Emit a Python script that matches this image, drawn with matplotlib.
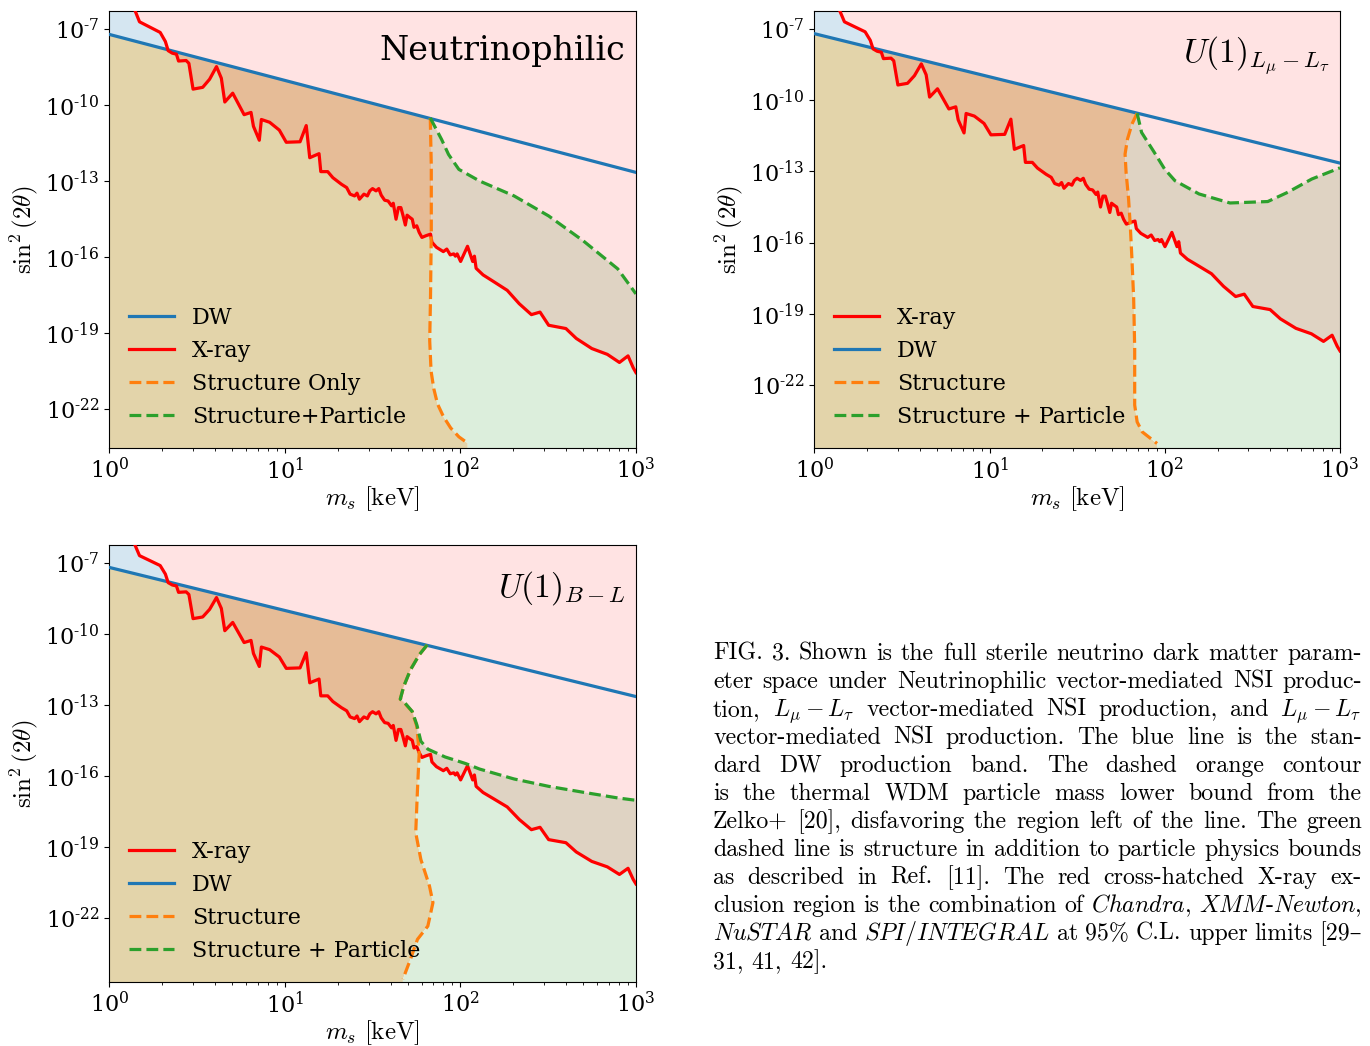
import numpy as np
import matplotlib
matplotlib.use('Agg')
import matplotlib.pyplot as plt
from matplotlib.patches import Polygon
from matplotlib.ticker import NullLocator

plt.rcParams['font.family'] = 'DejaVu Serif'
plt.rcParams['mathtext.fontset'] = 'cm'

# ---- data (m_s in keV, sin^2(2theta) as log10) ----
dw_m = [1.0, 1000.0]
dw_log = [-7.2, -12.65]

xray_m = [1.37, 1.483, 1.946, 2.083, 2.160, 2.281, 2.408, 2.475, 2.734, 2.835,
          2.994, 3.398, 3.720, 4.073, 4.340, 4.541, 5.039, 5.851, 6.407, 6.614,
          7.142, 7.339, 8.180, 9.288, 10.17, 12.19, 13.22, 13.84, 15.64, 16.00,
          17.52, 18.75, 20.99, 22.47, 23.51, 24.94, 25.74, 26.57, 28.18, 29.49,
          30.44, 31.56, 33.03, 34.24, 35.35, 36.98, 38.69, 40.49, 41.41, 42.94,
          44.33, 45.76, 47.01, 48.53, 49.64, 51.47, 53.13, 54.35, 56.36, 58.18,
          60.33, 63.70, 67.54, 68.78, 72.97, 79.89, 83.59, 87.46, 91.50, 93.61,
          95.74, 100.2, 109.7, 117.4, 120.1, 122.8, 134.5, 154.1, 184.7, 216.3,
          253.6, 284.0, 318.1, 398.9, 456.8, 560.3, 686.9, 805.1, 901.4, 964.7,
          1000.0]
xray_log = [-6.1, -6.70, -7.12, -7.48, -7.84, -7.94, -7.98, -8.25, -8.23, -8.34,
            -9.36, -9.29, -8.97, -8.47, -8.93, -9.87, -9.52, -10.37, -10.28, -10.83,
            -11.38, -10.56, -10.67, -10.98, -11.46, -11.44, -10.80, -12.07, -11.91, -12.62,
            -12.62, -12.86, -13.12, -13.25, -13.51, -13.58, -13.47, -13.71, -13.51, -13.58,
            -13.38, -13.29, -13.38, -13.29, -13.55, -13.75, -13.78, -13.97, -13.87, -14.50,
            -14.04, -14.04, -14.34, -14.73, -14.34, -14.43, -14.50, -14.82, -14.76, -15.02,
            -15.22, -15.15, -15.09, -15.41, -15.61, -15.78, -15.68, -15.91, -15.87, -15.96,
            -15.87, -16.17, -15.57, -16.17, -15.96, -16.44, -16.70, -16.96, -17.31, -17.84,
            -18.27, -18.17, -18.69, -18.82, -19.21, -19.61, -19.84, -20.16, -19.90, -20.37,
            -20.56]

# Neutrinophilic
nu_struct_m = [67.3, 68.2, 68.2, 67.5, 66.8, 68.0, 70.5, 74.0, 80.0, 88.0, 98.0, 110.0]
nu_struct_log = [-10.5, -12.4, -15.0, -17.6, -19.3, -20.5, -21.2, -21.8, -22.3, -22.75, -23.1, -23.35]
nu_part_m = [67.3, 78.1, 85.5, 97.9, 128.5, 202.2, 318.0, 500.0, 787.0, 1000.0]
nu_part_log = [-10.5, -11.35, -11.94, -12.53, -12.99, -13.58, -14.37, -15.35, -16.46, -17.45]

# U(1) L_mu - L_tau
lmt_struct_m = [69.5, 64.9, 61.2, 59.3, 60.1, 62.1, 63.5, 64.9, 66.4, 67.3, 67.3, 69.5, 74.3, 90.3]
lmt_struct_log = [-10.55, -11.01, -11.64, -12.27, -13.04, -14.16, -15.28, -16.68, -18.36, -20.46,
                  -22.84, -23.55, -23.97, -24.46]
lmt_part_m = [69.5, 73.7, 87.1, 99.7, 114.2, 156.8, 235.5, 386.9, 503.0, 690.6, 1000.0]
lmt_part_log = [-10.55, -11.36, -12.20, -12.90, -13.39, -13.95, -14.33, -14.27, -13.88, -13.32, -12.85]

# U(1) B - L
bl_struct_m = [64.6, 58.2, 51.9, 47.5, 45.4, 48.5, 53.1, 56.4, 58.2, 56.9, 55.6, 59.5, 66.6, 69.7,
               65.2, 56.9, 51.9, 47.0]
bl_struct_log = [-10.47, -10.89, -11.52, -12.22, -12.76, -12.96, -13.28, -13.91, -15.03, -16.58,
                 -18.40, -19.53, -20.65, -21.35, -22.34, -22.90, -23.74, -24.58]
bl_part_m = [64.6, 58.2, 51.9, 47.5, 45.4, 47.5, 53.1, 56.4, 59.5, 65.2, 81.7, 107.2, 128.5,
             202.2, 318.0, 500.0, 787.0, 1000.0]
bl_part_log = [-10.47, -10.89, -11.52, -12.22, -12.76, -12.86, -13.28, -13.84, -14.54, -14.87,
               -15.20, -15.48, -15.71, -16.13, -16.44, -16.69, -16.93, -17.03]

ytick_exp = [-22, -19, -16, -13, -10, -7]
xtick_exp = [0, 1, 2, 3]

TAN = '#E3D4AA'
GREEN = '#DCEEDC'
BLUE = '#D5E6F1'

fig = plt.figure(figsize=(13.7, 10.46), dpi=100)


def draw_panel(rect, ylim, s_m, s_log, p_m, p_log, title, legend_order, s_label, p_label):
    ax = fig.add_axes(rect)
    ax.set_xscale('log')
    ax.set_yscale('log')
    ybot, ytop = 10.0 ** ylim[0], 10.0 ** ylim[1]
    low = ybot / 10
    dw_s = 10 ** np.array(dw_log)
    xr_s = 10 ** np.array(xray_log)
    s_s = 10 ** np.array(s_log)
    p_s = 10 ** np.array(p_log)

    # structure-excluded region: left of orange contour, below DW
    tan = [(dw_m[0], low), (dw_m[0], dw_s[0])] + list(zip(s_m, s_s)) + [(s_m[-1], low)]
    ax.add_patch(Polygon(tan, closed=True, facecolor=TAN, edgecolor='none', zorder=1))

    # structure + particle region: right of orange, below green
    grn = list(zip(p_m, p_s)) + [(p_m[-1], low), (s_m[-1], low)] + list(zip(s_m[::-1], s_s[::-1]))
    ax.add_patch(Polygon(grn, closed=True, facecolor=GREEN, edgecolor='none', zorder=1))

    # above DW, below X-ray
    blue = ax.fill_between(dw_m, dw_s, ytop, color=BLUE, lw=0, zorder=1)
    clip = Polygon([(dw_m[0], ybot), (dw_m[0], ytop), (xray_m[0], ytop)] + list(zip(xray_m, xr_s))
                   + [(xray_m[-1], ybot)], closed=True, transform=ax.transData)
    blue.set_clip_path(clip)

    # X-ray excluded
    ax.fill_between(xray_m, xr_s, ytop, color='red', alpha=0.11, lw=0, zorder=2)

    h = {}
    h['dw'], = ax.plot(dw_m, dw_s, color='C0', lw=2.3, label='DW', zorder=4)
    h['xr'], = ax.plot(xray_m, xr_s, color='red', lw=2.3, label='X-ray', zorder=4)
    h['s'], = ax.plot(s_m, s_s, color='C1', ls='--', lw=2.3, label=s_label, zorder=5)
    h['p'], = ax.plot(p_m, p_s, color='C2', ls='--', lw=2.3, label=p_label, zorder=5)

    ax.set_xlim(1, 1000)
    ax.set_ylim(ybot, ytop)

    ax.set_xticks([10.0 ** k for k in xtick_exp])
    ax.set_xticklabels([r'$\mathdefault{10^{%d}}$' % k for k in xtick_exp],
                       math_fontfamily='dejavuserif')
    ax.set_yticks([10.0 ** k for k in ytick_exp])
    ax.set_yticklabels([r'$10^{\text{-%d}}$' % (-k) for k in ytick_exp],
                       math_fontfamily='dejavuserif')
    ax.yaxis.set_minor_locator(NullLocator())
    ax.tick_params(labelsize=16)

    ax.set_xlabel(r'$m_s\ [\mathrm{keV}]$', fontsize=18, labelpad=0)
    ax.set_ylabel(r'$\sin^2(2\theta)$', fontsize=18)

    ax.text(0.98, 0.945, title, transform=ax.transAxes, ha='right', va='top',
            fontsize=24, zorder=6)
    ax.legend(handles=[h[k] for k in legend_order], loc='lower left', frameon=False,
              fontsize=16)
    return ax


draw_panel([0.0799, 0.5717, 0.3843, 0.4181], (-23.54, -6.26),
           nu_struct_m, nu_struct_log, nu_part_m, nu_part_log,
           'Neutrinophilic', ['dw', 'xr', 's', 'p'], 'Structure Only', 'Structure+Particle')
draw_panel([0.5945, 0.5717, 0.3836, 0.4181], (-24.65, -6.23),
           lmt_struct_m, lmt_struct_log, lmt_part_m, lmt_part_log,
           r'$U(1)_{L_\mu - L_\tau}$', ['xr', 'dw', 's', 'p'], 'Structure', 'Structure + Particle')
draw_panel([0.0799, 0.0612, 0.3843, 0.4178], (-24.7, -6.25),
           bl_struct_m, bl_struct_log, bl_part_m, bl_part_log,
           r'$U(1)_{B-L}$', ['xr', 'dw', 's', 'p'], 'Structure', 'Structure + Particle')

# ---- caption, justified line by line ----
caption = [
    "FIG. 3. Shown is the full sterile neutrino dark matter param-",
    "eter space under Neutrinophilic vector-mediated NSI produc-",
    r"tion, $L_\mu-L_\tau$ vector-mediated NSI production, and $L_\mu-L_\tau$",
    "vector-mediated NSI production.  The blue line is the stan-",
    "dard DW production band.  The dashed orange contour",
    "is the thermal WDM particle mass lower bound from the",
    "Zelko+ [20], disfavoring the region left of the line. The green",
    "dashed line is structure in addition to particle physics bounds",
    "as described in Ref. [11].  The red cross-hatched X-ray ex-",
    r"clusion region is the combination of $\mathit{Chandra}$, $\mathit{XMM}$-$\mathit{Newton}$,",
    r"$\mathit{NuSTAR}$ and $\mathit{SPI/INTEGRAL}$ at 95% C.L. upper limits [29–",
    "31, 41, 42].",
]
W, H = 1370.0, 1046.0
cap_left, cap_right = 713.0, 1362.0
base0, lead = 660.0, 28.0
renderer = fig.canvas.get_renderer()

# size the caption font so the first (justified) line is close to its natural width
probe = fig.text(0, 0, caption[0], family=['cmr10', 'DejaVu Serif'], fontsize=16)
cap_size = 16 * 640.0 / probe.get_window_extent(renderer).width
probe.remove()
cap_font = dict(family=['cmr10', 'DejaVu Serif'], fontsize=cap_size, math_fontfamily='cm')
space_w = 0.333 * cap_size * 100 / 72.0

for i, line in enumerate(caption):
    y = 1 - (base0 + i * lead) / H
    words = line.split()
    texts = [fig.text(0, y, w_, va='baseline', ha='left', **cap_font) for w_ in words]
    widths = [t.get_window_extent(renderer).width for t in texts]
    if i == len(caption) - 1:
        gap = space_w
    else:
        gap = (cap_right - cap_left - sum(widths)) / (len(words) - 1)
    x = cap_left
    for t, wd in zip(texts, widths):
        t.set_x(x / W)
        x += wd + gap

fig.savefig('out.png', dpi=100)
